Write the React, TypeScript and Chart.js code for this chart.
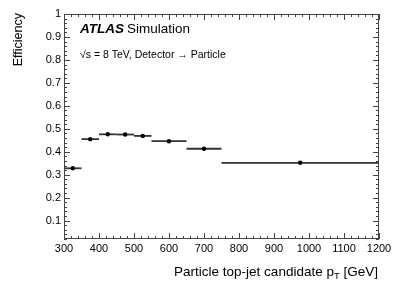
import React, { useEffect, useRef } from "react";
import { Chart, registerables } from "chart.js";

Chart.register(...registerables);

// Data
const binLow = [300, 350, 400, 450, 500, 550, 650, 750];
const binHigh = [350, 400, 450, 500, 550, 650, 750, 1200];
const binCenter = [325, 375, 425, 475, 525, 600, 700, 975];
const efficiency = [0.328, 0.455, 0.476, 0.475, 0.469, 0.446, 0.413, 0.352];

const xTickValues = [300, 400, 500, 600, 700, 800, 900, 1000, 1100, 1200];
const yTickValues = [0.1, 0.2, 0.3, 0.4, 0.5, 0.6, 0.7, 0.8, 0.9, 1];

const xMin = 300;
const xMax = 1200;
const yMin = 0.02;
const yMax = 1;

const FONT = "'Liberation Sans', Arial, Helvetica, sans-serif";

const errorBarPlugin = {
  id: "errorBars",
  beforeDatasetsDraw(chart: any) {
    const ctx = chart.ctx;
    const xs = chart.scales.x;
    const ys = chart.scales.y;
    ctx.save();
    ctx.strokeStyle = "#333";
    ctx.lineWidth = 1.8;
    for (let i = 0; i < efficiency.length; i++) {
      const y = ys.getPixelForValue(efficiency[i]);
      ctx.beginPath();
      ctx.moveTo(xs.getPixelForValue(binLow[i]), y);
      ctx.lineTo(xs.getPixelForValue(binHigh[i]), y);
      ctx.stroke();
    }
    ctx.restore();
  },
};

const framePlugin = {
  id: "frame",
  afterDraw(chart: any) {
    const ctx = chart.ctx;
    const xs = chart.scales.x;
    const ys = chart.scales.y;
    const a = chart.chartArea;
    ctx.save();
    ctx.strokeStyle = "#444";
    ctx.lineWidth = 1;
    ctx.strokeRect(a.left + 0.5, a.top + 0.5, a.right - a.left - 1, a.bottom - a.top - 1);

    ctx.beginPath();
    // x ticks (bottom & top)
    for (let v = xMin; v <= xMax + 0.001; v += 20) {
      const major = Math.abs(v % 100) < 0.001;
      const len = major ? 6 : 3;
      const px = Math.round(xs.getPixelForValue(v)) + 0.5;
      ctx.moveTo(px, a.bottom);
      ctx.lineTo(px, a.bottom - len);
      ctx.moveTo(px, a.top);
      ctx.lineTo(px, a.top + len);
    }
    // y ticks (left & right)
    for (let k = 1; k <= 50; k++) {
      const v = k * 0.02;
      if (v < yMin - 1e-6) continue;
      const major = k % 5 === 0;
      const len = major ? 6 : 3;
      const py = Math.round(ys.getPixelForValue(v)) + 0.5;
      ctx.moveTo(a.left, py);
      ctx.lineTo(a.left + len, py);
      ctx.moveTo(a.right, py);
      ctx.lineTo(a.right - len, py);
    }
    ctx.stroke();

    // Axis titles
    ctx.fillStyle = "#000";
    ctx.font = `13.5px ${FONT}`;
    ctx.textBaseline = "alphabetic";
    // x title with subscript
    const part1 = "Particle top-jet candidate p";
    const sub = "T";
    const part3 = " [GeV]";
    const w1 = ctx.measureText(part1).width;
    const w3 = ctx.measureText(part3).width;
    ctx.font = `9.5px ${FONT}`;
    const w2 = ctx.measureText(sub).width;
    const xEnd = a.right - 1;
    const xStart = xEnd - (w1 + w2 + w3);
    const baseY = 276;
    ctx.font = `13.5px ${FONT}`;
    ctx.textAlign = "left";
    ctx.fillText(part1, xStart, baseY);
    ctx.font = `9.5px ${FONT}`;
    ctx.fillText(sub, xStart + w1, baseY + 3);
    ctx.font = `13.5px ${FONT}`;
    ctx.fillText(part3, xStart + w1 + w2, baseY);

    // y title
    ctx.save();
    ctx.translate(22, a.top - 1);
    ctx.rotate(-Math.PI / 2);
    ctx.textAlign = "right";
    ctx.font = `12.5px ${FONT}`;
    ctx.fillText("Efficiency", 0, 0);
    ctx.restore();

    // ATLAS label
    ctx.textAlign = "left";
    ctx.font = `italic bold 13.5px ${FONT}`;
    ctx.fillText("ATLAS", 80, 33);
    const wa = ctx.measureText("ATLAS").width;
    ctx.font = `13.5px ${FONT}`;
    ctx.fillText("Simulation", 80 + wa + 3, 33);

    ctx.font = `10.5px ${FONT}`;
    ctx.fillText("\u221As = 8 TeV, Detector \u2192 Particle", 80, 58);
    ctx.restore();
  },
};

export default function App() {
  const ref = useRef<HTMLCanvasElement | null>(null);
  useEffect(() => {
    if (!ref.current) return;
    const chart = new Chart(ref.current, {
      type: "scatter",
      data: {
        datasets: [
          {
            data: binCenter.map((x, i) => ({ x, y: efficiency[i] })),
            backgroundColor: "#000",
            borderColor: "#000",
            pointRadius: 2.2,
            pointHoverRadius: 2.2,
            borderWidth: 0,
          },
        ],
      },
      options: {
        animation: false,
        responsive: false,
        events: [],
        layout: { padding: { top: 14, right: 20, left: 0, bottom: 0 } },
        plugins: { legend: { display: false }, tooltip: { enabled: false } },
        scales: {
          x: {
            type: "linear",
            min: xMin,
            max: xMax,
            grid: { display: false, drawTicks: false },
            border: { display: false },
            afterBuildTicks: (s: any) => {
              s.ticks = xTickValues.map((v) => ({ value: v }));
            },
            afterFit: (s: any) => {
              s.height = 47;
            },
            ticks: {
              padding: 3,
              maxRotation: 0,
              autoSkip: false,
              color: "#000",
              font: { family: FONT, size: 11 },
              callback: (v: any) => String(v),
            },
          },
          y: {
            type: "linear",
            min: yMin,
            max: yMax,
            grid: { display: false, drawTicks: false },
            border: { display: false },
            afterBuildTicks: (s: any) => {
              s.ticks = yTickValues.map((v) => ({ value: v }));
            },
            afterFit: (s: any) => {
              s.width = 64;
            },
            ticks: {
              padding: 3,
              autoSkip: false,
              color: "#000",
              font: { family: FONT, size: 11 },
              callback: (v: any) => String(v),
            },
          },
        },
      },
      plugins: [errorBarPlugin, framePlugin],
    });
    return () => chart.destroy();
  }, []);
  return (
    <div style={{ position: "absolute", left: 0, top: 0, width: 399, height: 286, background: "#fff" }}>
      <canvas ref={ref} width={399} height={286} />
    </div>
  );
}
